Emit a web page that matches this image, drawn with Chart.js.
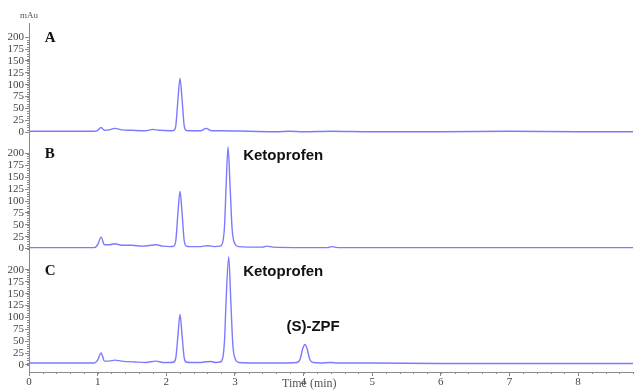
<!DOCTYPE html>
<html>
<head>
<meta charset="UTF-8"/>
<title>Chromatograms</title>
<script src="https://cdn.jsdelivr.net/npm/chart.js@4.4.2/dist/chart.umd.min.js"></script>
<style>
body{margin:0;background:#fff}
canvas{display:block}
</style>
</head>
<body>
<canvas id="chart" width="635" height="390"></canvas>
<script>
// retention time (min) and absorbance (mAu)
const timeA=[0,0.5,0.95,1.0,1.05,1.1,1.17,1.25,1.35,1.5,1.7,1.8,1.9,2.05,2.11,2.14,2.17,2.2,2.23,2.26,2.29,2.35,2.5,2.58,2.66,2.8,3.2,3.6,3.8,4.0,4.4,5.0,6.0,7.0,8.0,8.8];
const valA =[2,2,2,4,10,4,5,8,5,4,3,6,4,3,4,15,69,114,69,15,4,3,3,8,3,3,2,1,2,1,2,1,1,2,1,1];

const timeB=[0,0.5,0.95,1.0,1.05,1.1,1.17,1.25,1.35,1.5,1.65,1.85,1.95,2.05,2.11,2.14,2.17,2.2,2.23,2.26,2.29,2.35,2.5,2.6,2.7,2.78,2.82,2.85,2.87,2.9,2.93,2.96,3.0,3.05,3.2,3.4,3.47,3.55,4.0,4.35,4.41,4.5,5.0,6.0,7.0,8.0,8.8];
const valB =[2,2,2,8,24,8,8,10,7,7,5,8,5,4,5,18,75,121,75,18,5,4,4,6,4,5,12,50,125,214,130,40,10,4,3,3,5,3,2,2,4,2,2,2,2,2,2];

const timeC=[0,0.5,0.95,1.0,1.05,1.1,1.17,1.25,1.35,1.55,1.7,1.85,1.95,2.05,2.11,2.14,2.17,2.2,2.23,2.26,2.29,2.35,2.5,2.55,2.65,2.72,2.78,2.82,2.85,2.87,2.91,2.94,2.97,3.01,3.06,3.3,3.7,3.9,3.95,3.99,4.02,4.05,4.09,4.14,4.25,4.4,4.5,5.0,6.0,7.0,8.0,8.8];
const valC =[4,4,4,10,25,8,8,10,8,6,5,8,5,5,6,16,62,106,62,16,6,5,5,6,7,5,6,13,55,130,228,135,42,11,5,4,4,5,12,35,43,35,12,5,4,5,4,4,3,3,3,3];

const yTicks=[0,25,50,75,100,125,150,175,200];
const xTicks=[0,1,2,3,4,5,6,7,8];
const panelLabels=['A','B','C'];

const pts=(t,v)=>t.map((x,i)=>({x,y:v[i]}));
const serif='"Liberation Serif","DejaVu Serif",serif';
const sans='"Liberation Sans",Arial,sans-serif';

function yAxis(){
  return {
    type:'linear',position:'left',stack:'trace',stackWeight:1,
    min:-15,max:230,
    afterBuildTicks:s=>{s.ticks=yTicks.map(v=>({value:v}));},
    afterFit:s=>{s.width=29;},
    border:{color:'#8a8a8a',width:1},
    grid:{drawOnChartArea:false,tickLength:4,color:'#8a8a8a'},
    ticks:{font:{family:serif,size:11},color:'#444',padding:1,autoSkip:false}
  };
}

const notes={
  id:'notes',
  afterDraw(c){
    const {ctx}=c, x=c.scales.x;
    ctx.save();
    // minor ticks
    ctx.strokeStyle='#8a8a8a';ctx.lineWidth=1;
    ctx.beginPath();
    for(let t=0;t<=8.8;t+=0.2){const px=Math.round(x.getPixelForValue(t))+0.5;ctx.moveTo(px,x.top);ctx.lineTo(px,x.top+2);}
    ['yA','yB','yC'].forEach(id=>{
      const s=c.scales[id];
      for(let v=0;v<=200;v+=5){const py=Math.round(s.getPixelForValue(v))+0.5;ctx.moveTo(s.right-2,py);ctx.lineTo(s.right,py);}
    });
    ctx.stroke();
    // panel letters
    ctx.fillStyle='#111';ctx.textBaseline='middle';ctx.textAlign='left';
    ctx.font='bold 15px '+serif;
    ['yA','yB','yC'].forEach((id,i)=>{
      ctx.fillText(panelLabels[i],x.getPixelForValue(0.23),c.scales[id].getPixelForValue(198));
    });
    ctx.font='bold 15px '+sans;
    ctx.fillText('Ketoprofen',x.getPixelForValue(3.12),c.scales.yB.getPixelForValue(195));
    ctx.fillText('Ketoprofen',x.getPixelForValue(3.12),c.scales.yC.getPixelForValue(195));
    ctx.fillText('(S)-ZPF',x.getPixelForValue(3.75),c.scales.yC.getPixelForValue(80));
    ctx.fillStyle='#555';
    ctx.font='9px '+serif;
    ctx.fillText('mAu',20,16);
    ctx.font='12px '+serif;
    ctx.fillText('Time (min)',282,384);
    ctx.restore();
  }
};

const line=(data,axis)=>({data,yAxisID:axis,borderColor:'#7b7bff',borderWidth:1.4,pointRadius:0,cubicInterpolationMode:'monotone',fill:false});

new Chart(document.getElementById('chart'),{
  type:'line',
  data:{datasets:[line(pts(timeA,valA),'yA'),line(pts(timeB,valB),'yB'),line(pts(timeC,valC),'yC')]},
  options:{
    responsive:false,animation:false,devicePixelRatio:1,
    layout:{padding:{top:23,right:2}},
    plugins:{legend:{display:false},tooltip:{enabled:false}},
    scales:{
      x:{type:'linear',min:0,max:8.8,
        afterBuildTicks:s=>{s.ticks=xTicks.map(v=>({value:v}));},
        afterFit:s=>{s.height=18;},
        border:{color:'#8a8a8a',width:1},
        grid:{drawOnChartArea:false,tickLength:4,color:'#8a8a8a'},
        ticks:{font:{family:serif,size:11},color:'#444',padding:0,maxRotation:0,autoSkip:false}
      },
      yC:yAxis(),
      yB:yAxis(),
      yA:yAxis()
    }
  },
  plugins:[notes]
});
</script>
</body>
</html>
